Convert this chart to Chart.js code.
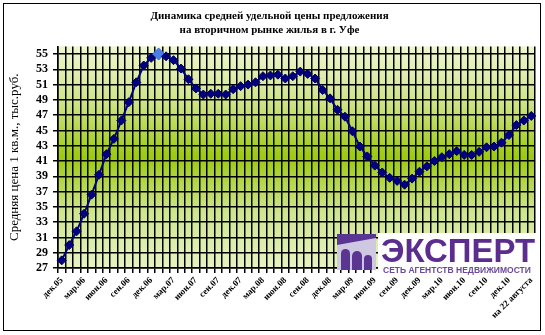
<!DOCTYPE html>
<html>
<head>
<meta charset="utf-8">
<script src="https://cdn.jsdelivr.net/npm/chart.js@4.4.0/dist/chart.umd.min.js"></script>
<style>
  body { margin: 0; background: #fff; }
  #wrap { width: 545px; height: 335px; }
</style>
</head>
<body>
<div id="wrap"><canvas id="price-chart" width="545" height="335"></canvas></div>
<script>
// monthly categories, Dec 2005 .. Feb 2011 plus the last reading
const months = [
  'дек.05',
  'янв.06', 'фев.06', 'мар.06', 'апр.06', 'май.06', 'июн.06', 'июл.06', 'авг.06', 'сен.06', 'окт.06', 'ноя.06', 'дек.06',
  'янв.07', 'фев.07', 'мар.07', 'апр.07', 'май.07', 'июн.07', 'июл.07', 'авг.07', 'сен.07', 'окт.07', 'ноя.07', 'дек.07',
  'янв.08', 'фев.08', 'мар.08', 'апр.08', 'май.08', 'июн.08', 'июл.08', 'авг.08', 'сен.08', 'окт.08', 'ноя.08', 'дек.08',
  'янв.09', 'фев.09', 'мар.09', 'апр.09', 'май.09', 'июн.09', 'июл.09', 'авг.09', 'сен.09', 'окт.09', 'ноя.09', 'дек.09',
  'янв.10', 'фев.10', 'мар.10', 'апр.10', 'май.10', 'июн.10', 'июл.10', 'авг.10', 'сен.10', 'окт.10', 'ноя.10', 'дек.10',
  'янв.11', 'фев.11', 'на 22 августа'
];

// average price, thousand rub per sq.m
const avgPrice = [
  28.0, 30.0, 31.8, 34.1, 36.6, 39.2, 41.9, 43.9, 46.3, 48.7, 51.3, 53.5, 54.5,
  55.0, 54.7, 54.2, 53.1, 51.7, 50.5, 49.7, 49.8, 49.8, 49.7, 50.4, 50.8,
  51.0, 51.3, 52.1, 52.2, 52.3, 51.8, 52.1, 52.7, 52.4, 51.8, 50.3, 49.2,
  47.7, 46.8, 44.9, 42.9, 41.6, 40.4, 39.5, 38.8, 38.4, 37.9, 38.7, 39.6,
  40.3, 41.0, 41.5, 41.9, 42.3, 41.8, 41.8, 42.2, 42.8, 42.9, 43.4, 44.4,
  45.7, 46.3, 46.9
];

const yTicks = [27, 29, 31, 33, 35, 37, 39, 41, 43, 45, 47, 49, 51, 53, 55];
const peakIndex = 13;
const labelStep = 3;

const serif = "'Liberation Serif', 'Times New Roman', serif";

// plot area fill: light at the edges, bright green in the middle
const plotBackground = {
  id: 'plotBackground',
  beforeDraw(chart) {
    const { ctx, chartArea: a } = chart;
    const g = ctx.createLinearGradient(0, a.top, 0, a.bottom);
    g.addColorStop(0, '#eef6d2');
    g.addColorStop(0.25, '#cfe487');
    g.addColorStop(0.5, '#9cca0e');
    g.addColorStop(0.75, '#cfe58e');
    g.addColorStop(1, '#e8f3c2');
    ctx.save();
    ctx.fillStyle = g;
    ctx.fillRect(a.left, a.top, a.right - a.left, a.bottom - a.top);
    ctx.restore();
  }
};

// outer frame and the agency logo in the bottom right corner
const frameAndLogo = {
  id: 'frameAndLogo',
  afterDraw(chart) {
    const ctx = chart.ctx;
    ctx.save();
    ctx.strokeStyle = '#000';
    ctx.lineWidth = 1;
    ctx.strokeRect(3.5, 3.5, 537, 327);

    // logo icon
    ctx.fillStyle = '#cfc8e2';
    ctx.fillRect(337, 234, 39, 36);
    ctx.fillStyle = '#5b3592';
    ctx.beginPath();
    ctx.moveTo(337, 234);
    ctx.lineTo(376, 234);
    ctx.lineTo(376, 238);
    ctx.lineTo(337, 245);
    ctx.closePath();
    ctx.fill();
    const arches = [[341, 249, 9], [352, 251, 10], [364, 255, 8]];
    arches.forEach(([x, top, w]) => {
      ctx.beginPath();
      ctx.moveTo(x, 270);
      ctx.lineTo(x, top + w / 2);
      ctx.arc(x + w / 2, top + w / 2, w / 2, Math.PI, 0);
      ctx.lineTo(x + w, 270);
      ctx.closePath();
      ctx.fill();
    });

    // logo text
    ctx.fillStyle = '#fff';
    ctx.fillRect(378, 233, 159, 43);
    ctx.fillStyle = '#5a2d8e';
    ctx.font = "bold 33px 'Liberation Sans', Arial, sans-serif";
    ctx.textBaseline = 'alphabetic';
    ctx.textAlign = 'left';
    ctx.fillText('ЭКСПЕРТ', 381, 262, 154);
    ctx.font = "bold 8.5px 'Liberation Sans', Arial, sans-serif";
    ctx.fillStyle = '#6a4a98';
    ctx.fillText('СЕТЬ АГЕНТСТВ НЕДВИЖИМОСТИ', 383, 273, 152);
    ctx.restore();
  }
};

const ctx = document.getElementById('price-chart').getContext('2d');
window.priceChart = new Chart(ctx, {
  type: 'line',
  data: {
    labels: months,
    datasets: [{
      label: 'Средняя цена',
      data: avgPrice,
      borderColor: '#000080',
      borderWidth: 2,
      fill: false,
      tension: 0,
      pointStyle: 'rectRot',
      pointRadius: avgPrice.map((_, i) => i === peakIndex ? 6 : 4.5),
      pointBackgroundColor: avgPrice.map((_, i) => i === peakIndex ? '#4a7fe8' : '#000080'),
      pointBorderColor: avgPrice.map((_, i) => i === peakIndex ? '#3f6fd8' : '#00005c'),
      pointBorderWidth: 1
    }]
  },
  options: {
    responsive: false,
    animation: false,
    layout: {
      padding: { left: 4, right: 10, top: 0, bottom: 4 }
    },
    plugins: {
      legend: { display: false },
      tooltip: { enabled: false },
      title: {
        display: true,
        text: ['Динамика средней удельной цены предложения', 'на вторичном рынке жилья в г. Уфе'],
        color: '#000',
        font: { family: serif, size: 11, weight: 'bold', lineHeight: 1.2 },
        padding: { top: 10, bottom: 10 }
      }
    },
    scales: {
      x: {
        type: 'category',
        offset: true,
        afterFit(scale) { scale.height = 63; },
        grid: { offset: true, color: '#000', lineWidth: 1.5, tickLength: 5 },
        border: { color: '#000', width: 1.5 },
        ticks: {
          autoSkip: false,
          minRotation: 45,
          maxRotation: 45,
          padding: 2,
          color: '#000',
          font: { family: serif, size: 9, weight: 'bold' },
          callback: function(value, index) {
            return index % labelStep === 0 ? this.getLabelForValue(value) : '';
          }
        }
      },
      y: {
        min: 27,
        max: 56,
        afterFit(scale) { scale.width = 54; },
        afterBuildTicks(scale) {
          scale.ticks = yTicks.map(v => ({ value: v }));
        },
        grid: { color: '#000', lineWidth: 1.5, tickLength: 5 },
        border: { color: '#000', width: 1.5 },
        ticks: {
          autoSkip: false,
          padding: 5,
          color: '#000',
          font: { family: serif, size: 12, weight: 'bold' }
        },
        title: {
          display: true,
          text: 'Средняя цена 1 кв.м., тыс.руб.',
          color: '#000',
          font: { family: serif, size: 13 },
          padding: { top: 3, bottom: 0 }
        }
      }
    }
  },
  plugins: [plotBackground, frameAndLogo]
});
</script>
</body>
</html>
